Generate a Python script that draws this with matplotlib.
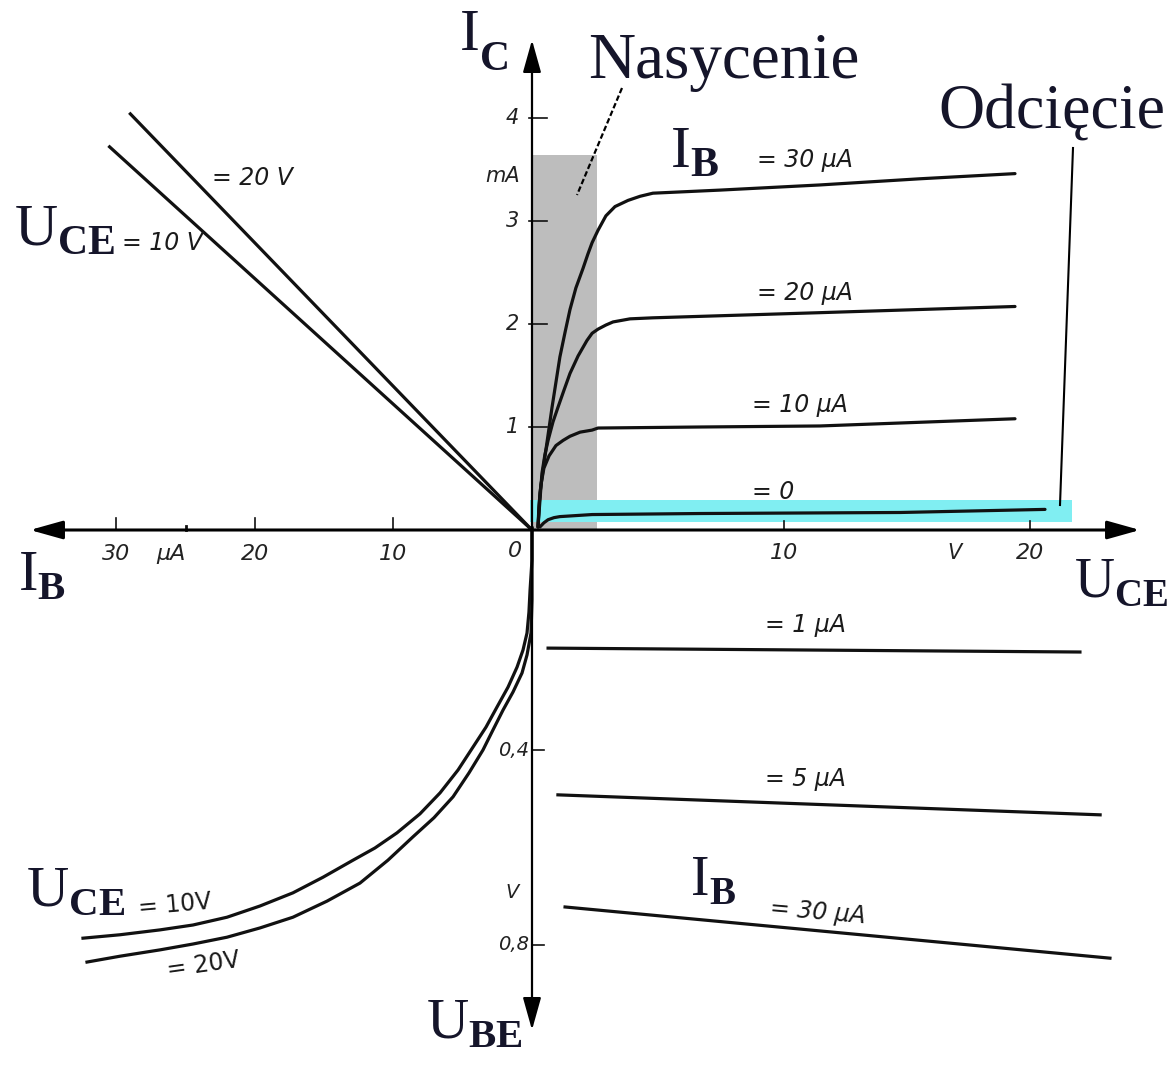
import matplotlib.pyplot as plt

# quadrant I - output characteristics, U_CE [V] vs I_C [mA]
uce_30 = [0, 0.08, 0.28, 0.57, 0.89, 1.10, 1.30, 1.54, 1.83, 2.03, 2.20, 2.44, 2.76, 3.13, 3.66, 4.15, 4.67,
          7.40, 11.46, 15.53, 19.39]
ic_30 = [0.03, 0.36, 0.71, 1.19, 1.68, 1.92, 2.14, 2.35, 2.54, 2.68, 2.79, 2.91, 3.05, 3.14, 3.20, 3.24, 3.27,
         3.30, 3.35, 3.41, 3.46]
uce_20 = [0, 0.08, 0.16, 0.28, 0.41, 0.61, 0.81, 1.06, 1.30, 1.63, 1.99, 2.20, 2.44, 2.76, 3.05, 3.74, 4.67,
          11.46, 19.39]
ic_20 = [0.03, 0.29, 0.55, 0.73, 0.87, 1.05, 1.19, 1.36, 1.52, 1.69, 1.84, 1.91, 1.95, 1.99, 2.02, 2.05, 2.06,
         2.11, 2.17]
uce_10 = [0, 0.04, 0.12, 0.24, 0.45, 0.73, 1.02, 1.30, 1.71, 2.20, 2.44, 6.59, 11.46, 19.39]
ic_10 = [0.03, 0.24, 0.44, 0.60, 0.72, 0.82, 0.87, 0.91, 0.95, 0.97, 0.99, 1.00, 1.01, 1.08]
uce_0 = [0.08, 0.24, 0.41, 0.65, 0.89, 2.20, 6.59, 14.72, 20.61]
ic_0 = [0.03, 0.07, 0.10, 0.12, 0.13, 0.15, 0.16, 0.17, 0.20]

# quadrant II - current gain, I_B [uA] vs I_C [mA]
ib_g20 = [0, 29.0]
ic_g20 = [0, 4.04]
ib_g10 = [0, 30.5]
ic_g10 = [0, 3.72]

# quadrant III - input characteristics, I_B [uA] vs U_BE [V]
ib_in10 = [0, 0, 0.14, 0.22, 0.36, 0.65, 1.08, 1.73, 2.53, 3.32, 4.26, 5.34, 6.64, 8.09, 9.75, 11.34, 12.92,
           15.09, 17.26, 19.64, 22.02, 24.48, 26.86, 29.75, 32.42]
ube_in10 = [-0.055, 0.010, 0.072, 0.117, 0.160, 0.195, 0.230, 0.271, 0.312, 0.353, 0.394, 0.441, 0.488, 0.531,
            0.570, 0.601, 0.626, 0.661, 0.693, 0.720, 0.743, 0.759, 0.769, 0.779, 0.786]
ib_in20 = [0, 0, 0, 0.07, 0.36, 0.72, 1.37, 2.09, 2.82, 3.54, 4.55, 5.70, 7.08, 8.59, 10.40, 12.42, 14.80,
           17.26, 19.64, 22.02, 24.48, 26.86, 29.75, 32.13]
ube_in20 = [-0.055, 0.010, 0.092, 0.160, 0.205, 0.242, 0.281, 0.318, 0.359, 0.400, 0.447, 0.496, 0.539, 0.578,
            0.626, 0.673, 0.710, 0.743, 0.765, 0.784, 0.798, 0.810, 0.823, 0.835]

# quadrant IV - feedback, U_CE [V] vs U_BE [V]
uce_fb1 = [0.41, 22.03]
ube_fb1 = [0.191, 0.199]
uce_fb5 = [0.81, 22.85]
ube_fb5 = [0.492, 0.533]
uce_fb30 = [1.10, 23.25]
ube_fb30 = [0.722, 0.827]

# regions: saturation (grey) and cut-off (cyan)
sat_uce = [-0.2, 2.4]
sat_ic = [0, 3.64]
cut_uce = [-0.33, 21.7]
cut_ic = [0.08, 0.29]

ic_ticks = [1, 2, 3, 4]
ib_ticks = [10, 20, 30]
uce_ticks = [10, 20]
ube_ticks = [0.4, 0.8]
ube_tick_labels = ['0,4', '0,8']

W, H = 1171, 1066
plt.rcParams['mathtext.fontset'] = 'custom'
plt.rcParams['mathtext.rm'] = 'Liberation Serif'
plt.rcParams['mathtext.bf'] = 'Liberation Serif:bold'

fig = plt.figure(figsize=(W / 100, H / 100), dpi=100)
fig.patch.set_facecolor('white')


def quad(x0, sx, y0, sy):
    # full-figure axes; data zero sits at pixel (x0, y0), sx/sy = pixels per unit
    ax = fig.add_axes([0, 0, 1, 1])
    ax.set_xlim(-x0 / sx, (W - x0) / sx)
    ax.set_ylim((y0 - H) / sy, y0 / sy)
    ax.set_axis_off()
    ax.patch.set_alpha(0)
    return ax


q1 = quad(538, 24.6, 530, 103)         # U_CE / I_C
q2 = quad(532, -13.85, 530, 103)       # I_B / I_C
q3 = quad(532, -13.85, 555, -487.5)    # I_B / U_BE
q4 = quad(538, 24.6, 555, -487.5)      # U_CE / U_BE
lay = quad(0, 1, 0, -1)                # pixel layout for axes arrows and captions

lc = '#111111'
lw = 2.3
tick_font = dict(fontfamily='DejaVu Sans', fontstyle='italic', color='#222222')

# ---- quadrant I
for v in ic_ticks:
    q1.plot([-0.35, 0.35], [v, v], color=lc, lw=1.2)
q1.fill_between(sat_uce, sat_ic[0], sat_ic[1], color='#bdbdbd', lw=0)
q1.fill_between(cut_uce, cut_ic[0], cut_ic[1], color='#80eef2', lw=0)
for x, y in [(uce_30, ic_30), (uce_20, ic_20), (uce_10, ic_10), (uce_0, ic_0)]:
    q1.plot(x, y, color=lc, lw=lw, solid_capstyle='round', solid_joinstyle='round')
for v in ic_ticks:
    q1.annotate(str(v), (-0.25, v), xytext=(-13, 0), textcoords='offset pixels',
                ha='right', va='center', fontsize=15, **tick_font)
q1.annotate('mA', (-0.25, 3.44), xytext=(-12, 0), textcoords='offset pixels',
            ha='right', va='center', fontsize=15, **tick_font)
for v in uce_ticks:
    q1.plot([v, v], [0, 0.09], color=lc, lw=1.2)
    q1.annotate(str(v), (v, 0), xytext=(0, -23), textcoords='offset pixels',
                ha='center', va='center', fontsize=16, **tick_font)
q1.annotate('V', (16.95, 0), xytext=(0, -23), textcoords='offset pixels',
            ha='center', va='center', fontsize=15, **tick_font)

# ---- quadrant II
q2.plot(ib_g20, ic_g20, color=lc, lw=lw)
q2.plot(ib_g10, ic_g10, color=lc, lw=lw)
for v in ib_ticks:
    q2.plot([v, v], [0, 0.12], color=lc, lw=1.2)
    q2.annotate(str(v), (v, 0), xytext=(0, -24), textcoords='offset pixels',
                ha='center', va='center', fontsize=16, **tick_font)
q2.plot([25, 25], [0, 0.04], color=lc, lw=2)
q2.annotate('µA', (26.1, 0), xytext=(0, -24), textcoords='offset pixels',
            ha='center', va='center', fontsize=16, **tick_font)
q2.annotate('0', (1.2, 0), xytext=(0, -21), textcoords='offset pixels',
            ha='center', va='center', fontsize=16, **tick_font)

# ---- quadrant III
q3.plot(ib_in10, ube_in10, color=lc, lw=lw, solid_joinstyle='round')
q3.plot(ib_in20, ube_in20, color=lc, lw=lw, solid_joinstyle='round')
for v, s in zip(ube_ticks, ube_tick_labels):
    q3.plot([0, -0.9], [v, v], color=lc, lw=1.2)
    q3.annotate(s, (0, v), xytext=(-3, 0), textcoords='offset pixels',
                ha='right', va='center', fontsize=14, **tick_font)
q3.annotate('V', (0, 0.693), xytext=(-20, 0), textcoords='offset pixels',
            ha='center', va='center', fontsize=14, **tick_font)

# ---- quadrant IV
for x, y in [(uce_fb1, ube_fb1), (uce_fb5, ube_fb5), (uce_fb30, ube_fb30)]:
    q4.plot(x, y, color=lc, lw=lw)

# ---- axes arrows
arr = dict(arrowstyle='-|>,head_length=1.0,head_width=0.28', color='black',
           shrinkA=0, shrinkB=0, mutation_scale=20)
lay.annotate('', xy=(1140, 530), xytext=(532, 530), arrowprops=dict(arr, lw=2.2))
lay.annotate('', xy=(30, 530), xytext=(532, 530), arrowprops=dict(arr, lw=2.2))
lay.annotate('', xy=(532, 40), xytext=(532, 530), arrowprops=dict(arr, lw=1.6))
lay.annotate('', xy=(532, 1030), xytext=(532, 530), arrowprops=dict(arr, lw=1.6))

# ---- leader lines
lay.plot([622, 577], [88, 195], color='black', lw=1.6, ls=(0, (2.5, 1.2)))
lay.plot([1073, 1060], [148, 505], color='black', lw=1.5)

# ---- curve labels
curve_font = dict(fontfamily='DejaVu Sans', fontstyle='italic', color='#1a1a1a', fontsize=17)
for x, y, s, r in [(805, 160, '= 30 µA', 0), (805, 293, '= 20 µA', 0),
                   (800, 405, '= 10 µA', 0), (773, 492, '= 0', 0),
                   (252, 178, '= 20 V', 0), (162, 243, '= 10 V', 0),
                   (805, 625, '= 1 µA', 0), (805, 779, '= 5 µA', 0),
                   (818, 912, '= 30 µA', -5)]:
    lay.text(x, y, s, ha='center', va='center', rotation=r, **curve_font)
up_font = dict(fontfamily='DejaVu Sans', color='#1a1a1a', fontsize=17)
lay.text(175, 905, '= 10V', ha='center', va='center', rotation=5, **up_font)
lay.text(203, 965, '= 20V', ha='center', va='center', rotation=8, **up_font)

# ---- big serif captions
cap = '#15152a'
serif = dict(color=cap, ha='left', va='baseline')
lay.text(460, 50, 'I', fontfamily='Liberation Serif', fontsize=43, **serif)
lay.text(480, 70, 'C', fontfamily='Liberation Serif', fontweight='bold', fontsize=30, **serif)
lay.text(670, 167, r'$\mathrm{I}_{\mathbf{B}}$', fontsize=43, **serif)
lay.text(14, 245, r'$\mathrm{U}_{\mathbf{CE}}$', fontsize=43, **serif)
lay.text(18, 590, r'$\mathrm{I}_{\mathbf{B}}$', fontsize=42, **serif)
lay.text(1074, 597, r'$\mathrm{U}_{\mathbf{CE}}$', fontsize=40, **serif)
lay.text(26, 905, r'$\mathrm{U}_{\mathbf{CE}}$', fontsize=42, **serif)
lay.text(426, 1038, r'$\mathrm{U}_{\mathbf{BE}}$', fontsize=42, **serif)
lay.text(690, 895, r'$\mathrm{I}_{\mathbf{B}}$', fontsize=40, **serif)
lay.text(588, 78, 'Nasycenie', fontfamily='Liberation Serif', fontsize=47, **serif)
lay.text(938, 128, 'Odcięcie', fontfamily='Liberation Serif', fontsize=46, **serif)

fig.savefig('out.png', dpi=100)
